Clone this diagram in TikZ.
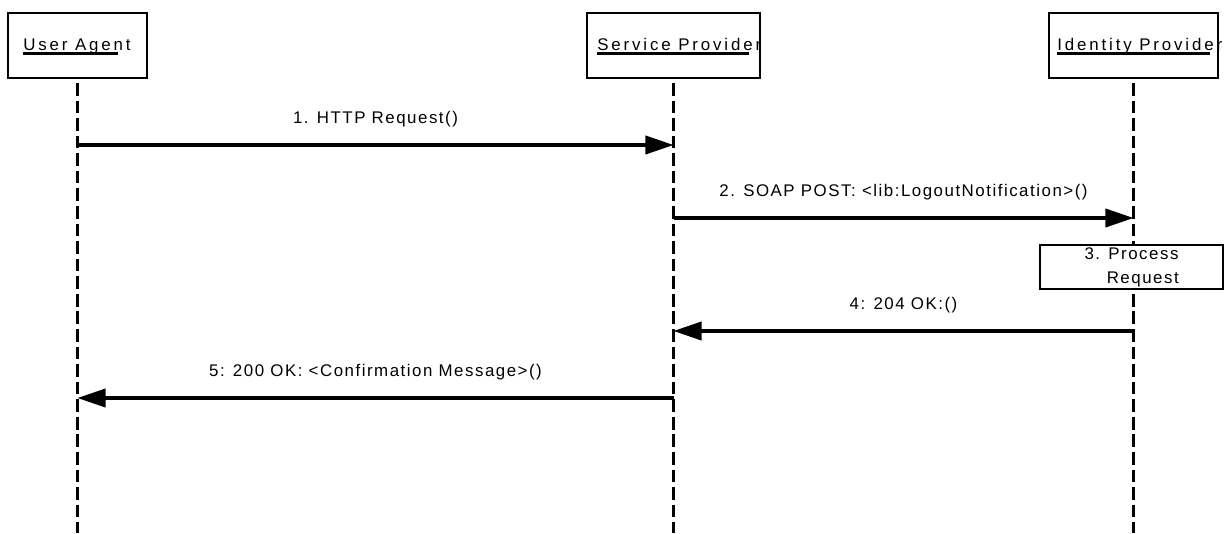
\documentclass[tikz,border=0pt]{standalone}
\usepackage{fontspec}
\setmainfont{Liberation Sans}
\newfontfamily\hdrfont{Liberation Sans}[LetterSpace=17]
\newfontfamily\msgfont{Liberation Sans}[LetterSpace=9]
\usetikzlibrary{arrows.meta}

\begin{document}
\begin{tikzpicture}[x=0.025cm, y=-0.025cm,
  actor/.style={draw, line width=1pt, minimum height=1.625cm, inner sep=0pt},
  hdr/.style={inner sep=0pt, anchor=base west, font=\hdrfont\fontsize{12}{14}\selectfont},
  lifeline/.style={line width=2.4pt, dash pattern=on 9pt off 3.5pt},
  msg/.style={line width=2.2pt, -{Triangle[length=20pt, width=13pt]}},
  msglbl/.style={inner sep=0pt, anchor=base, yshift=15pt, font=\msgfont\fontsize{12}{14}\selectfont}]
\useasboundingbox (0,0) rectangle (1230,533);
% actors with their lifelines
\foreach \nm/\cx/\w/\txt/\tx in {ua/77.5/3.475/User Agent/23,
    sp/673.5/4.325/Service Provider/597,
    idp/1133.5/4.225/Identity Provider/1057}
{
\node[actor, minimum width=\w cm] (\nm Box) at (\cx,45.5) {};
\node[hdr] (\nm Lbl) at (\tx,50) {\txt};
\draw[line width=2.2pt] ([yshift=-2.8pt]\nm Lbl.base west) -- ([xshift=-9pt, yshift=-2.8pt]\nm Lbl.base east);
\draw[lifeline] ([yshift=-3pt]\nm Box.south) -- (\nm Box.south |- 0,533);
}
% messages
\draw[msg] (uaBox |- 0,145) -- (spBox |- 0,145)
  node[msglbl, midway] (m1) {1. HTTP Request()};
\draw[msg] (spBox |- 0,218) -- (idpBox |- 0,218)
  node[msglbl, midway] (m2) {2. SOAP POST: <lib:LogoutNotification>()};
\node[draw, fill=white, line width=1pt, minimum width=4.575cm, minimum height=1.1cm,
  inner sep=0pt, align=center, font=\msgfont\fontsize{12}{17}\selectfont]
  (proc) at (1131.5,267) {3. Process\\\hspace*{16pt}Request};
\draw[msg] (idpBox |- 0,331) -- (spBox |- 0,331)
  node[msglbl, midway] (m4) {4: 204 OK:()};
\draw[msg] (spBox |- 0,398) -- (uaBox |- 0,398)
  node[msglbl, midway] (m5) {5: 200 OK: <Confirmation Message>()};
\end{tikzpicture}
\end{document}
